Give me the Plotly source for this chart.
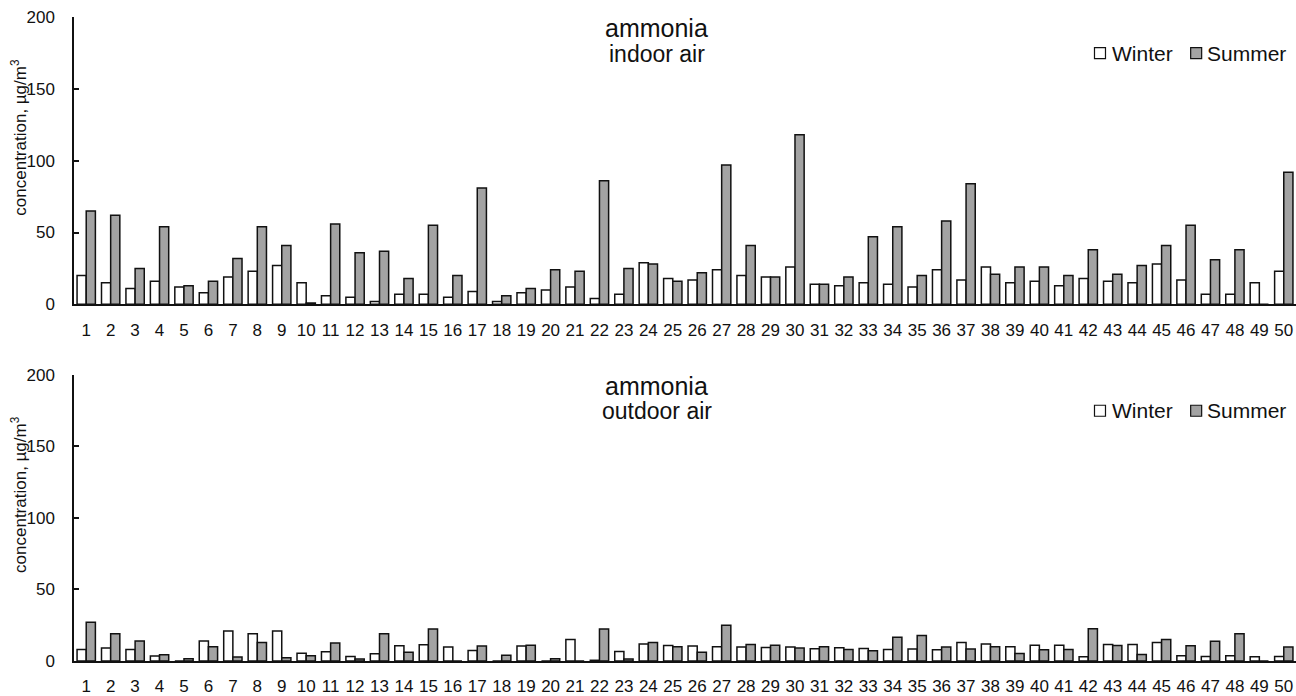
import plotly.graph_objects as go

# Sampling sites and measured ammonia concentrations (µg/m³)
sites = list(range(1, 51))

indoor_winter = [20, 15, 11, 16, 12, 8, 19, 23, 27, 15,
                 6, 5, 2, 7, 7, 5, 9, 2, 8, 10,
                 12, 4, 7, 29, 18, 17, 24, 20, 19, 26,
                 14, 13, 15, 14, 12, 24, 17, 26, 15, 16,
                 13, 18, 16, 15, 28, 17, 7, 7, 15, 23]
indoor_summer = [65, 62, 25, 54, 13, 16, 32, 54, 41, 1,
                 56, 36, 37, 18, 55, 20, 81, 6, 11, 24,
                 23, 86, 25, 28, 16, 22, 97, 41, 19, 118,
                 14, 19, 47, 54, 20, 58, 84, 21, 26, 26,
                 20, 38, 21, 27, 41, 55, 31, 38, 0, 92]

outdoor_winter = [8, 9, 8, 3.5, 0, 14, 21, 19, 21, 5.5,
                  6.5, 3.2, 5, 10.6, 11.3, 9.7, 7.4, 0, 10.4, 0,
                  15, 0.5, 6.7, 11.8, 10.8, 10.4, 10, 9.7, 9.5, 9.7,
                  8.5, 9.2, 8.8, 8, 8.3, 7.8, 13, 11.8, 10, 11,
                  11, 3, 11.5, 11.5, 13, 3.7, 3.2, 3.7, 3, 3.2]
outdoor_summer = [27, 19, 14, 4.4, 1.6, 10, 2.8, 13, 2.3, 3.7,
                  12.5, 1.4, 19, 6.2, 22.4, 0, 10.4, 4, 11, 1.5,
                  0, 22.4, 1.4, 13, 10, 6.2, 25, 11.5, 11, 9,
                  10, 8, 7.2, 16.6, 17.8, 9.7, 8.3, 10, 5.3, 7.8,
                  8, 22.6, 10.8, 4.6, 15, 10.6, 13.8, 19, 0, 9.7]

y_ticks = [0, 50, 100, 150, 200]
panels = [("x", "y", "indoor air", indoor_winter, indoor_summer),
          ("x2", "y2", "outdoor air", outdoor_winter, outdoor_summer)]

FONT = "Liberation Sans, Arial, Helvetica, sans-serif"
INK = "#111111"
WINTER_FILL = "#ffffff"
SUMMER_FILL = "#a3a3a3"

fig = go.Figure()

for xa, ya, place, winter, summer in panels:
    fig.add_trace(go.Bar(x=sites, y=winter, name="Winter", xaxis=xa, yaxis=ya,
                         marker=dict(color=WINTER_FILL, line=dict(color=INK, width=1.5)),
                         showlegend=False))
    fig.add_trace(go.Bar(x=sites, y=summer, name="Summer", xaxis=xa, yaxis=ya,
                         marker=dict(color=SUMMER_FILL, line=dict(color=INK, width=1.5)),
                         showlegend=False))

xaxis_style = dict(range=[0.5, 50.5], tickmode="array", tickvals=sites,
                   showline=True, linecolor=INK, linewidth=1.5, ticks="",
                   showgrid=False, zeroline=False, ticklabelstandoff=9,
                   tickfont=dict(family=FONT, size=17, color=INK))
yaxis_style = dict(range=[0, 200], tickmode="array", tickvals=y_ticks,
                   showline=True, linecolor=INK, linewidth=1.5,
                   ticks="inside", ticklen=5, tickwidth=1.5, tickcolor=INK,
                   showgrid=False, zeroline=False, ticklabelstandoff=14,
                   tickfont=dict(family=FONT, size=17, color=INK))

fig.update_layout(
    width=1296, height=696,
    margin=dict(l=74, r=0, t=17, b=29),
    paper_bgcolor="white", plot_bgcolor="white",
    barmode="group", bargap=0.25, bargroupgap=0,
    showlegend=False,
    xaxis=dict(xaxis_style, anchor="y"),
    yaxis=dict(yaxis_style, anchor="x", domain=[0.5538, 1.0]),
    xaxis2=dict(xaxis_style, anchor="y2"),
    yaxis2=dict(yaxis_style, anchor="x2", domain=[0.0, 0.4446]),
)

annotations = []
shapes = []
for xa, ya, place, winter, summer in panels:
    xd, yd = f"{xa} domain", f"{ya} domain"
    # panel heading
    annotations.append(dict(text="ammonia", xref=xd, yref=yd, x=0.477, y=0.962,
                            xanchor="center", yanchor="middle", showarrow=False,
                            font=dict(family=FONT, size=25, color=INK)))
    annotations.append(dict(text=place, xref=xd, yref=yd, x=0.477, y=0.872,
                            xanchor="center", yanchor="middle", showarrow=False,
                            font=dict(family=FONT, size=23, color=INK)))
    # vertical axis caption
    annotations.append(dict(text="concentration, µg/m<sup>3</sup>", xref=xd, yref=yd,
                            x=0, xshift=-55, y=0.58, textangle=-90,
                            xanchor="center", yanchor="middle", showarrow=False,
                            font=dict(family=FONT, size=17, color=INK)))
    # season key
    for label, fill, bx, tx in [("Winter", WINTER_FILL, 0.8396, 0.8478),
                                ("Summer", SUMMER_FILL, 0.9183, 0.9256)]:
        shapes.append(dict(type="rect", xref=xd, yref=yd, xsizemode="pixel", ysizemode="pixel",
                           xanchor=bx, yanchor=0.874, x0=-5.5, x1=5.5, y0=-5.5, y1=5.5,
                           fillcolor=fill, line=dict(color=INK, width=1.2)))
        annotations.append(dict(text=label, xref=xd, yref=yd, x=tx, y=0.874,
                                xanchor="left", yanchor="middle", showarrow=False,
                                font=dict(family=FONT, size=21, color=INK)))

fig.update_layout(annotations=annotations, shapes=shapes)

fig.write_html("out.html")
